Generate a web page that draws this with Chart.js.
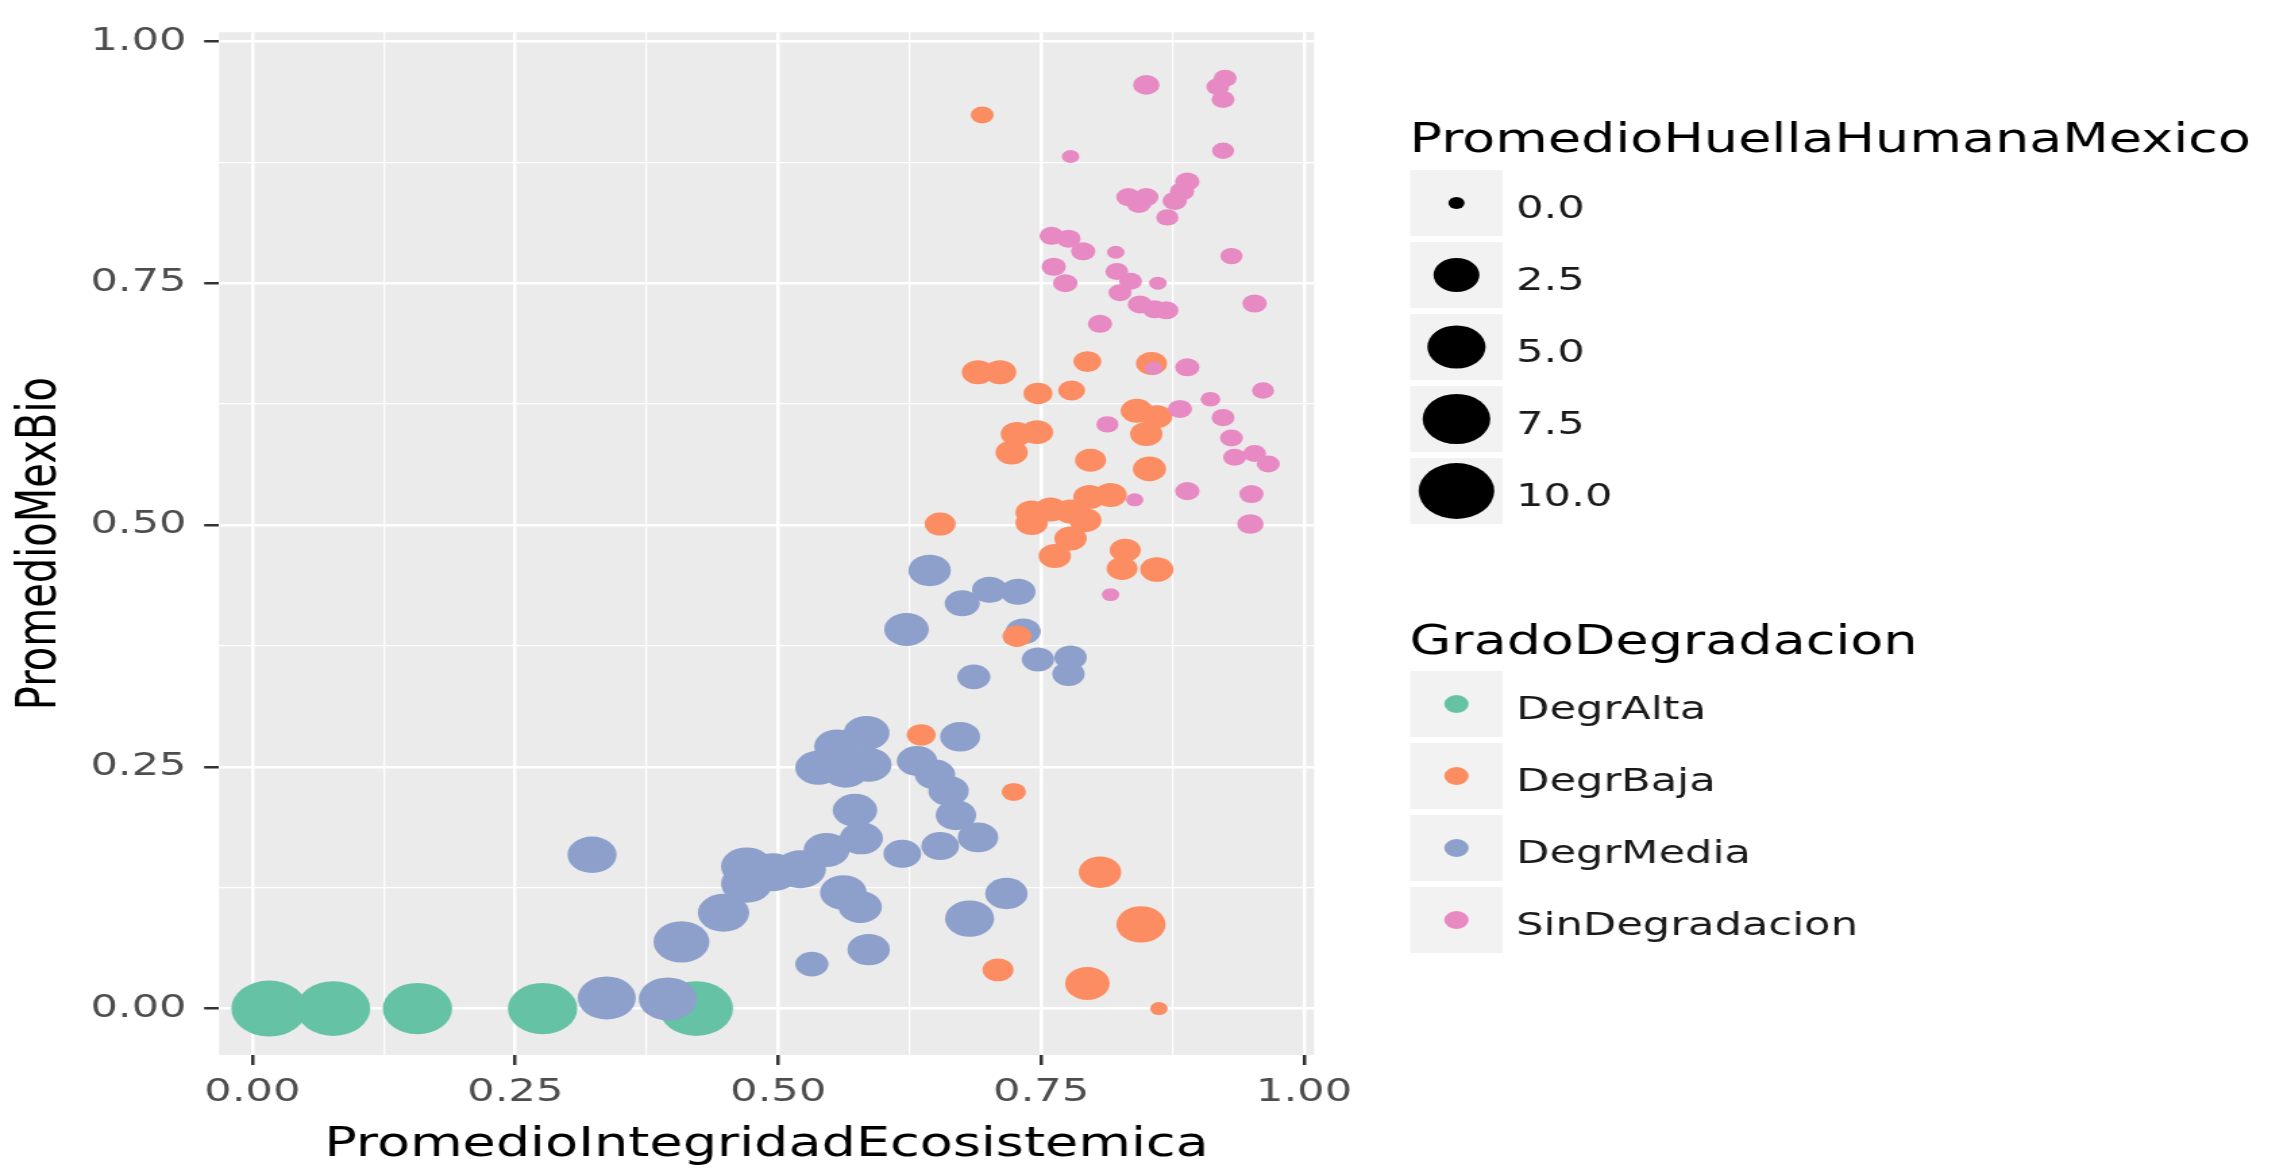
<!DOCTYPE html>
<html><head><meta charset="utf-8">
<script src="https://cdn.jsdelivr.net/npm/chart.js@4.4.1/dist/chart.umd.min.js"></script>
<style>
html,body{margin:0;padding:0;background:#ffffff;overflow:hidden;width:2287px;height:1170px;}
#wrap{position:absolute;left:0;top:0;width:1694px;height:1170px;transform:scaleX(1.35006);transform-origin:0 0;}
canvas{display:block;}
</style></head><body>
<div id="wrap"><canvas id="c" width="1694" height="1170"></canvas></div>
<script>
// ---------------- data ----------------
const categories = ['DegrAlta', 'DegrBaja', 'DegrMedia', 'SinDegradacion'];
const categoryColors = ['#66C2A5', '#FC8D62', '#8DA0CB', '#E78AC3'];

// DegrAlta
const altaX = [0.016, 0.077, 0.157, 0.276, 0.422];
const altaY = [0.000, 0.000, 0.000, 0.000, 0.000];
const altaHuella = [10.1, 9.4, 8.0, 8.0, 9.4];

// DegrBaja
const bajaX = [0.694, 0.794, 0.855, 0.690, 0.711, 0.747, 0.779, 0.841, 0.860, 0.850, 0.727, 0.746, 0.722, 0.797, 0.853, 0.654, 0.741, 0.759, 0.778, 0.796, 0.816, 0.792, 0.741, 0.778, 0.763, 0.830, 0.827, 0.860, 0.636, 0.727, 0.724, 0.806, 0.845, 0.709, 0.794, 0.862];
const bajaY = [0.924, 0.669, 0.667, 0.658, 0.658, 0.636, 0.639, 0.618, 0.612, 0.594, 0.594, 0.596, 0.575, 0.567, 0.558, 0.501, 0.513, 0.516, 0.514, 0.529, 0.531, 0.505, 0.502, 0.486, 0.468, 0.474, 0.455, 0.454, 0.283, 0.385, 0.224, 0.141, 0.087, 0.040, 0.026, 0.000];
const bajaHuella = [0.13, 0.40, 0.62, 0.74, 0.74, 0.46, 0.33, 0.74, 0.62, 0.74, 0.74, 0.74, 0.74, 0.62, 0.82, 0.62, 0.74, 0.74, 0.74, 0.74, 0.74, 0.74, 0.74, 0.74, 0.74, 0.62, 0.62, 0.82, 0.46, 0.46, 0.19, 1.94, 3.07, 0.62, 2.28, 0.005];

// DegrMedia
const mediaX = [0.323, 0.337, 0.395, 0.408, 0.448, 0.470, 0.470, 0.495, 0.521, 0.546, 0.538, 0.564, 0.586, 0.556, 0.584, 0.573, 0.579, 0.562, 0.578, 0.586, 0.532, 0.618, 0.632, 0.649, 0.662, 0.669, 0.690, 0.654, 0.673, 0.686, 0.622, 0.644, 0.675, 0.701, 0.728, 0.733, 0.747, 0.778, 0.776, 0.717, 0.682];
const mediaY = [0.159, 0.011, 0.010, 0.069, 0.099, 0.129, 0.147, 0.141, 0.144, 0.164, 0.249, 0.246, 0.252, 0.271, 0.285, 0.205, 0.176, 0.120, 0.105, 0.061, 0.046, 0.160, 0.256, 0.242, 0.225, 0.200, 0.177, 0.168, 0.281, 0.343, 0.392, 0.453, 0.419, 0.433, 0.431, 0.390, 0.361, 0.363, 0.346, 0.119, 0.093];
const mediaHuella = [3.07, 4.96, 4.96, 4.47, 3.49, 3.49, 3.49, 3.49, 3.49, 2.50, 2.50, 2.50, 2.50, 2.50, 2.50, 2.28, 2.07, 2.64, 2.07, 1.94, 0.82, 1.32, 1.67, 1.67, 1.67, 1.67, 1.67, 1.32, 1.60, 0.82, 2.28, 1.94, 1.01, 1.01, 1.01, 1.01, 0.74, 0.74, 0.74, 1.94, 3.07];

// SinDegradacion
const sinX = [0.850, 0.925, 0.918, 0.923, 0.778, 0.923, 0.833, 0.843, 0.850, 0.889, 0.884, 0.877, 0.870, 0.760, 0.776, 0.790, 0.821, 0.762, 0.773, 0.822, 0.835, 0.825, 0.861, 0.844, 0.858, 0.869, 0.806, 0.931, 0.953, 0.857, 0.889, 0.961, 0.911, 0.882, 0.813, 0.923, 0.931, 0.934, 0.953, 0.966, 0.889, 0.950, 0.949, 0.839, 0.816];
const sinY = [0.955, 0.962, 0.953, 0.940, 0.881, 0.887, 0.839, 0.832, 0.839, 0.855, 0.845, 0.835, 0.818, 0.799, 0.796, 0.783, 0.782, 0.767, 0.750, 0.762, 0.752, 0.740, 0.750, 0.728, 0.723, 0.722, 0.708, 0.778, 0.729, 0.662, 0.663, 0.639, 0.630, 0.620, 0.604, 0.611, 0.590, 0.570, 0.574, 0.563, 0.535, 0.532, 0.501, 0.526, 0.428];
const sinHuella = [0.30, 0.13, 0.13, 0.13, 0.005, 0.10, 0.19, 0.19, 0.19, 0.19, 0.19, 0.19, 0.10, 0.19, 0.19, 0.19, 0.005, 0.19, 0.19, 0.13, 0.13, 0.13, 0.005, 0.19, 0.19, 0.19, 0.19, 0.10, 0.19, 0.005, 0.19, 0.10, 0.035, 0.19, 0.10, 0.13, 0.13, 0.13, 0.13, 0.13, 0.19, 0.19, 0.30, 0.005, 0.005];

// size legend
const sizeBreaks = [0, 2.5, 5, 7.5, 10];
const sizeBreakLabels = ['0.0', '2.5', '5.0', '7.5', '10.0'];

// ticks
const xTickValues = [0, 0.25, 0.5, 0.75, 1];
const xTickLabels = ['0.00', '0.25', '0.50', '0.75', '1.00'];
const yTickValues = [0, 0.25, 0.5, 0.75, 1];
const yTickLabels = ['0.00', '0.25', '0.50', '0.75', '1.00'];
const minorTickValues = [0.125, 0.375, 0.625, 0.875];

const xTitle = 'PromedioIntegridadEcosistemica';
const yTitle = 'PromedioMexBio';
const sizeTitle = 'PromedioHuellaHumanaMexico';
const colorTitle = 'GradoDegradacion';

// ---------------- helpers ----------------
const FONT = '"DejaVu Sans", "Liberation Sans", Arial, sans-serif';
const huellaMax = 10;
function sizeScale(h) {            // area-style size scale (like ggplot scale_size)
  const t = Math.max(0, Math.min(1, h / huellaMax));
  return 6 + 22 * Math.sqrt(t);
}
function isMajor(v, list) { return list.some(m => Math.abs(m - v) < 1e-9); }
function labelFor(v, vals, labels) {
  const i = vals.findIndex(m => Math.abs(m - v) < 1e-9);
  return i >= 0 ? labels[i] : '';
}
function points(xs, ys, hs) { return xs.map((x, i) => ({x: x, y: ys[i], h: hs[i]})); }

const groups = [
  {x: altaX, y: altaY, h: altaHuella},
  {x: bajaX, y: bajaY, h: bajaHuella},
  {x: mediaX, y: mediaY, h: mediaHuella},
  {x: sinX, y: sinY, h: sinHuella}
];
const drawOrder = [4, 2, 3, 1]; // lower = drawn on top
const datasets = categories.map((name, k) => ({
  label: name,
  data: points(groups[k].x, groups[k].y, groups[k].h),
  order: drawOrder[k],
  backgroundColor: categoryColors[k],
  pointBackgroundColor: categoryColors[k],
  pointBorderWidth: 0,
  borderWidth: 0,
  pointRadius: ctx => (ctx.raw ? sizeScale(ctx.raw.h) : 5),
  pointHoverRadius: ctx => (ctx.raw ? sizeScale(ctx.raw.h) : 5)
}));

const allX = xTickValues.concat(minorTickValues).sort((a, b) => a - b);
const allY = yTickValues.concat(minorTickValues).sort((a, b) => a - b);

// panel background
const panelBg = {
  id: 'panelBg',
  beforeDraw(chart) {
    const {ctx, chartArea: a} = chart;
    ctx.save();
    ctx.fillStyle = '#EBEBEB';
    ctx.fillRect(a.left, a.top, a.right - a.left, a.bottom - a.top);
    ctx.restore();
  }
};

// ggplot-like legends
const ggLegend = {
  id: 'ggLegend',
  afterDraw(chart) {
    const ctx = chart.ctx;
    const x0 = 1044.6, keyW = 68.4, keyH = 66, pitch = 72, cx = x0 + keyW / 2, labelX = 1123;
    ctx.save();
    ctx.textAlign = 'left';
    ctx.textBaseline = 'alphabetic';
    // size legend
    ctx.fillStyle = '#000000';
    ctx.font = '40px ' + FONT;
    ctx.fillText(sizeTitle, 1044, 152);
    sizeBreaks.forEach((b, i) => {
      const cy = 203 + i * pitch;
      ctx.fillStyle = '#F2F2F2';
      ctx.fillRect(x0, cy - keyH / 2, keyW, keyH);
      ctx.fillStyle = '#000000';
      ctx.beginPath();
      ctx.arc(cx, cy, sizeScale(b), 0, Math.PI * 2);
      ctx.fill();
      ctx.fillStyle = '#1A1A1A';
      ctx.font = '32px ' + FONT;
      ctx.fillText(sizeBreakLabels[i], labelX, cy + 15);
    });
    // colour legend
    ctx.fillStyle = '#000000';
    ctx.font = '40px ' + FONT;
    ctx.fillText(colorTitle, 1044, 654);
    categories.forEach((c, i) => {
      const cy = 704 + i * pitch;
      ctx.fillStyle = '#F2F2F2';
      ctx.fillRect(x0, cy - keyH / 2, keyW, keyH);
      ctx.fillStyle = categoryColors[i];
      ctx.beginPath();
      ctx.arc(cx, cy, 9, 0, Math.PI * 2);
      ctx.fill();
      ctx.fillStyle = '#1A1A1A';
      ctx.font = '32px ' + FONT;
      ctx.fillText(c, labelX, cy + 15);
    });
    ctx.restore();
  }
};

function gridLW(ctx, majors) { return ctx.tick && isMajor(ctx.tick.value, majors) ? 2.5 : 1.2; }
function tickCol(ctx, majors) { return ctx.tick && isMajor(ctx.tick.value, majors) ? '#333333' : 'rgba(0,0,0,0)'; }

new Chart(document.getElementById('c'), {
  type: 'scatter',
  data: {datasets: datasets},
  plugins: [panelBg, ggLegend],
  options: {
    responsive: false,
    devicePixelRatio: 1,
    animation: false,
    events: [],
    layout: {padding: {left: 0, top: 17, right: 720.7, bottom: 0}},
    plugins: {legend: {display: false}, tooltip: {enabled: false}},
    scales: {
      x: {
        type: 'linear', min: -0.0317, max: 1.0095,
        afterBuildTicks: s => { s.ticks = allX.map(v => ({value: v})); },
        afterFit: s => { s.height = 115; },
        ticks: {
          autoSkip: false, maxRotation: 0, padding: 8, color: '#4D4D4D',
          font: {family: FONT, size: 32},
          callback: v => labelFor(v, xTickValues, xTickLabels)
        },
        grid: {
          color: '#FFFFFF', lineWidth: ctx => gridLW(ctx, xTickValues),
          tickLength: 10, tickWidth: 2.5, tickColor: ctx => tickCol(ctx, xTickValues)
        },
        border: {display: false},
        title: {display: true, text: xTitle, color: '#000000',
          font: {family: FONT, size: 40, lineHeight: 1}, padding: {top: 0, bottom: 4}}
      },
      y: {
        type: 'linear', min: -0.048, max: 1.0095,
        afterBuildTicks: s => { s.ticks = allY.map(v => ({value: v})); },
        afterFit: s => { s.width = 162.2; },
        ticks: {
          autoSkip: false, padding: 13, color: '#4D4D4D',
          font: {family: FONT, size: 32},
          callback: v => labelFor(v, yTickValues, yTickLabels)
        },
        grid: {
          color: '#FFFFFF', lineWidth: ctx => gridLW(ctx, yTickValues),
          tickLength: 11, tickWidth: 2.5, tickColor: ctx => tickCol(ctx, yTickValues)
        },
        border: {display: false},
        title: {display: true, text: yTitle, color: '#000000',
          font: {family: FONT, size: 40, lineHeight: 1}, padding: {top: 11, bottom: 0}}
      }
    }
  }
});
</script>
</body></html>
